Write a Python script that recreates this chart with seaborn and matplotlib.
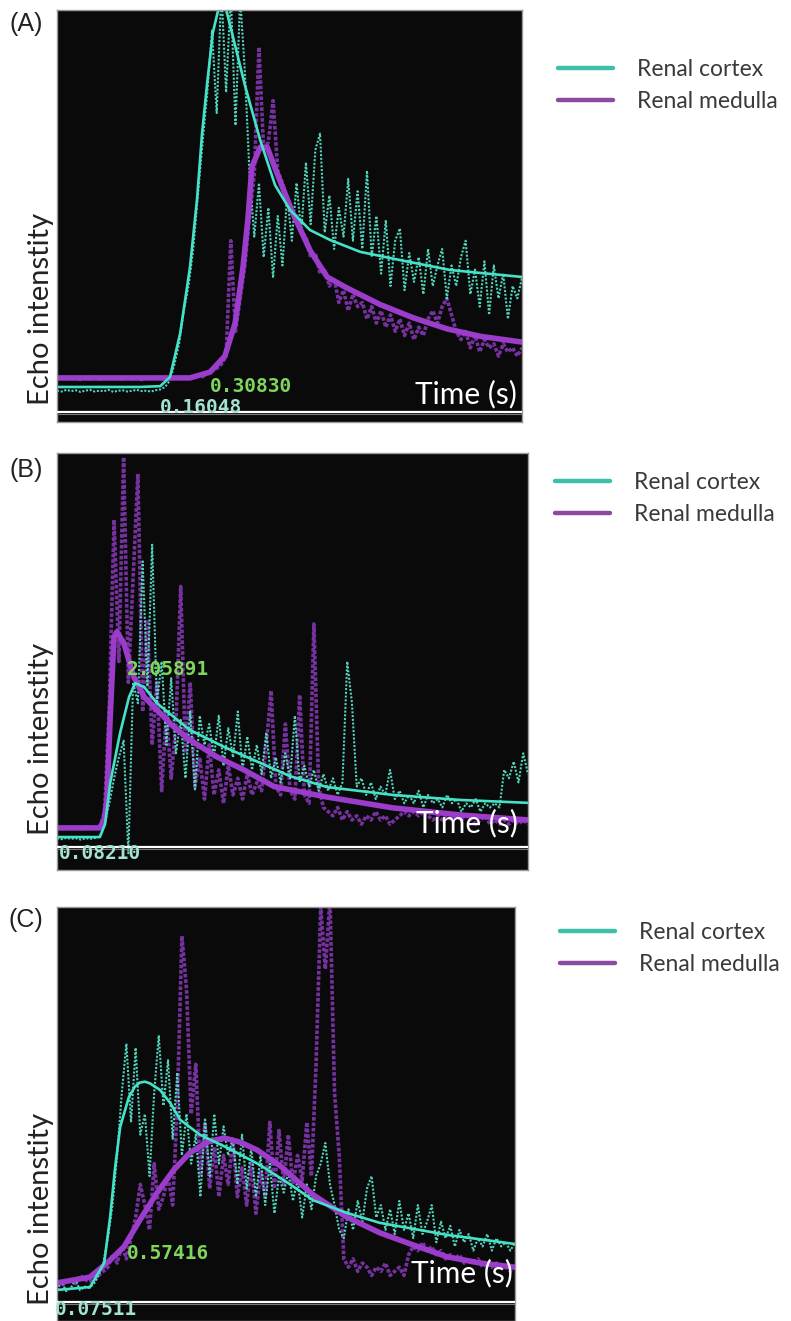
import numpy as np
import matplotlib
matplotlib.use("Agg")
import matplotlib.pyplot as plt
import seaborn as sns
from matplotlib.lines import Line2D

# ---- data (arbitrary units: time 0-100, intensity 0-100) ----
panel_labels = ["(A)", "(B)", "(C)"]
series_names = ["Renal cortex", "Renal medulla"]
peak_labels = ["0.30830", "2.05891", "0.57416"]
start_labels = ["0.16048", "0.08210", "0.07511"]
baseline_levels = [2.4, 5.5, 4.6]

# fitted curves
a_cortex_fit_t = [0, 17.8, 22.2, 24.3, 26.5, 28.6, 30.1, 31.2, 32.3, 33.5, 35.5, 37.2, 40.4, 43.7, 46.9, 50.1, 54.4, 58.7, 65.2, 73.8, 84.5, 100]
a_cortex_fit_y = [8.5, 8.5, 8.7, 10.9, 21.6, 37.6, 53.9, 70.1, 82.3, 94.4, 104, 96.4, 81.8, 68.4, 57.5, 51.5, 46.6, 44.2, 41.3, 39.3, 36.9, 35.2]
a_medulla_fit_t = [0, 28.6, 32.9, 36.1, 38.3, 40.0, 41.1, 41.9, 43.7, 45.2, 47.3, 50.7, 54.4, 58.1, 62.4, 69.5, 76.6, 83.9, 91.0, 100]
a_medulla_fit_y = [10.7, 10.7, 12.1, 16.0, 24.0, 37.6, 49.8, 61.9, 66.7, 66.7, 60.4, 50.7, 41.7, 35.2, 32.5, 28.5, 25.3, 22.6, 20.8, 19.4]

b_cortex_fit_t = [0, 9.1, 10.2, 11.3, 13.4, 15.3, 16.6, 18.5, 21.2, 24.8, 28.2, 35.5, 42.5, 49.5, 57.3, 71.3, 85.6, 100]
b_cortex_fit_y = [7.9, 7.9, 11.0, 20.9, 32.9, 41.5, 44.8, 43.9, 40.0, 36.7, 33.6, 29.5, 26.0, 22.5, 19.9, 18.0, 16.8, 16.1]
b_medulla_fit_t = [0, 9.1, 10.0, 10.6, 11.3, 12.1, 12.7, 14.2, 16.3, 18.5, 21.2, 24.8, 28.2, 34.0, 39.7, 46.1, 57.3, 71.3, 85.6, 100]
b_medulla_fit_y = [10.1, 10.1, 12.0, 16.8, 36.7, 55.9, 57.1, 54.4, 46.3, 41.5, 38.4, 34.3, 31.2, 27.1, 24.0, 20.0, 17.5, 14.9, 13.2, 12.0]

c_cortex_fit_t = [0, 7.2, 10.3, 11.6, 12.7, 13.8, 15.7, 17.0, 18.1, 19.2, 20.3, 22.5, 24.7, 26.9, 31.2, 37.8, 44.3, 50.9, 55.9, 63.3, 70.5, 85.2, 100]
c_cortex_fit_y = [7.5, 8.2, 14.0, 25.1, 37.2, 46.9, 54.1, 56.6, 57.6, 57.8, 57.4, 55.8, 52.7, 48.6, 45.0, 41.5, 37.7, 33.0, 29.2, 26.1, 23.7, 20.8, 18.6]
c_medulla_fit_t = [0, 7.2, 11.6, 14.6, 18.1, 21.8, 25.5, 29.0, 32.8, 36.5, 40.0, 43.7, 48.7, 55.9, 63.3, 70.5, 77.7, 85.2, 92.4, 100]
c_medulla_fit_y = [9.2, 10.6, 14.7, 17.9, 24.4, 30.9, 36.5, 40.6, 43.2, 44.2, 43.2, 41.3, 37.5, 30.5, 25.1, 21.3, 18.4, 15.5, 14.0, 13.0]

# raw (noisy) traces, one sample per time unit
a_cortex_raw = [7.6, 7.4, 7.8, 7.5, 7.7, 7.3, 7.6, 7.8, 7.4, 7.6, 7.5, 7.8, 7.3, 7.6, 7.7, 7.4, 7.6, 7.8, 7.5, 7.6, 7.4, 7.7, 7.9,
                8.5, 10, 14, 19, 27, 33, 42, 55, 68, 80, 95, 75, 105, 80, 104, 72, 103, 85, 60, 45, 58, 40, 52, 35, 50, 38, 55,
                44, 58, 46, 63, 48, 66, 70, 46, 55, 42, 52, 45, 59, 44, 56, 42, 61, 40, 50, 36, 49, 33, 44, 47, 32, 41, 34, 40, 31, 42,
                33, 38, 42, 30, 38, 33, 40, 44, 31, 37, 28, 39, 26, 38, 30, 36, 25, 33, 30, 35]
a_medulla_raw = [10.5, 10.8, 10.4, 10.9, 10.6, 10.3, 10.8, 10.5, 10.9, 10.4, 10.7, 10.5, 10.9, 10.6, 10.4, 10.8, 10.5, 10.7, 10.3, 10.8,
                 10.6, 10.9, 10.5, 10.7, 10.4, 10.8, 10.6, 10.9, 10.7, 11, 11.5, 11, 12, 12.5, 13, 14, 16, 44, 22, 30,
                 38, 50, 60, 91, 66, 68, 78, 61, 58, 54, 51, 50, 46, 45, 40, 41, 36, 37, 33, 35,
                 29, 32, 27, 31, 28, 29, 25, 28, 24, 27, 23, 26, 22, 25, 21, 24, 20, 23, 21, 25,
                 27, 24, 28, 30, 26, 22, 20, 22, 18, 21, 17, 20, 18, 19, 16, 19, 17, 18, 16, 18]

b_cortex_raw = [7.6, 7.4, 7.7, 7.5, 7.6, 7.3, 7.6, 7.5, 7.7, 8, 11, 16, 22, 27, 31, 4, 45, 40, 74, 44,
                78, 40, 50, 30, 46, 28, 36, 22, 38, 19, 37, 30, 35, 27, 37, 25, 34, 27, 38, 24,
                32, 24, 30, 23, 33, 22, 27, 21, 28, 22, 37, 21, 25, 20, 24, 19, 23, 19, 22, 18,
                21, 50, 40, 20, 22, 18, 21, 17, 20, 18, 24, 17, 19, 16, 18, 16, 19, 15, 18, 16,
                17, 15, 18, 16, 17, 14, 16, 15, 17, 14, 16, 15, 16, 15, 24, 22, 26, 21, 28, 23]
b_medulla_raw = [10.2, 10, 10.3, 10.1, 10.2, 9.9, 10.2, 10.1, 10, 10.3, 14, 40, 84, 50, 99, 45, 70, 95, 38, 60,
                 30, 45, 19, 38, 22, 35, 68, 28, 45, 20, 27, 17, 30, 18, 24, 16, 25, 18, 22, 17,
                 23, 18, 21, 19, 30, 43, 20, 18, 35, 19, 17, 42, 18, 16, 59, 20, 15, 14, 13, 15,
                 12, 14, 12, 13, 11, 13, 12, 14, 12, 13, 11, 12, 13, 14, 13, 14, 13, 14, 13, 12,
                 13, 12, 13, 12, 13, 12, 13, 12, 11, 12, 13, 11, 12, 11, 12, 11, 12, 11, 12, 11]

c_cortex_raw = [7.5, 9.5, 7.2, 8.0, 10.0, 7.4, 8.3, 8, 9, 11, 14, 20, 28, 40, 55, 67, 48, 66, 45, 50,
                35, 55, 69, 52, 63, 44, 60, 40, 50, 38, 45, 30, 49, 35, 50, 38, 47, 40, 44, 33,
                45, 32, 42, 30, 40, 28, 38, 26, 35, 31, 36, 29, 34, 25, 33, 27, 35, 38, 43, 33,
                28, 22, 20, 27, 22, 29, 24, 32, 35, 25, 28, 22, 27, 21, 29, 22, 26, 20, 28, 21,
                24, 28, 19, 24, 20, 23, 18, 22, 19, 21, 17, 20, 18, 21, 17, 20, 18, 19, 17, 19]
c_medulla_raw = [9, 8.5, 9.5, 10, 9, 11, 10, 9.5, 10, 11, 12, 13, 16, 14, 18, 15, 20, 25, 33, 28,
                 22, 38, 27, 30, 35, 28, 52, 93, 80, 50, 62, 35, 48, 32, 42, 30, 40, 33, 44, 30,
                 37, 28, 38, 26, 36, 30, 48, 32, 46, 33, 45, 33, 40, 34, 48, 35, 62, 100, 85, 102,
                 55, 40, 15, 13, 15, 12, 14, 13, 11, 13, 12, 14, 11, 12, 13, 11, 16, 18, 17, 19,
                 17, 18, 16, 17, 15, 16, 15, 16, 14, 15, 14, 15, 13, 14, 13, 14, 13, 13, 12, 13]

fits = [
    (a_cortex_fit_t, a_cortex_fit_y, a_medulla_fit_t, a_medulla_fit_y),
    (b_cortex_fit_t, b_cortex_fit_y, b_medulla_fit_t, b_medulla_fit_y),
    (c_cortex_fit_t, c_cortex_fit_y, c_medulla_fit_t, c_medulla_fit_y),
]
raws = [(a_cortex_raw, a_medulla_raw), (b_cortex_raw, b_medulla_raw), (c_cortex_raw, c_medulla_raw)]

# ---- style ----
sns.set_theme(style="dark")
plt.rcParams["font.family"] = ["Lato", "DejaVu Sans"]

W, H = 791, 1321
fig = plt.figure(figsize=(W / 100, H / 100), dpi=100, facecolor="white")

# axes boxes in pixels: left, top, right, bottom
boxes = [(57, 10, 522, 422), (57, 453, 528, 870), (57, 907, 515, 1321)]
legend_anchor = [(558, 59), (555, 472), (560, 922)]
ylabel_center = [309, 739, 1209]
label_y = [24, 470, 920]
# text positions in axes fraction
peak_pos = [(0.329, 0.085), (0.149, 0.48), (0.153, 0.164)]
start_pos = [(0.221, 0.036), (0.004, 0.04), (-0.004, 0.027)]
time_pos = [(0.989, 0.046), (0.979, 0.089), (0.996, 0.094)]

cortex_c = "#45e2c8"
medulla_c = "#9b3ccb"
cortex_raw_c = "#5ce9d0"
medulla_raw_c = "#9a3fd0"

for i, (l, t, r, b) in enumerate(boxes):
    ax = fig.add_axes([l / W, 1 - b / H, (r - l) / W, (b - t) / H])
    ax.set_facecolor("#0a0a0a")
    ct, cy, mt, my = fits[i]
    craw, mraw = raws[i]
    traw = np.linspace(0, 100, len(craw))

    # raw traces first, fits on top
    sns.lineplot(x=traw, y=mraw, ax=ax, color=medulla_raw_c, lw=2.6, alpha=0.75,
                 estimator=None, sort=False, linestyle=(0, (1, 0.5)))
    sns.lineplot(x=traw, y=craw, ax=ax, color=cortex_raw_c, lw=1.5, alpha=0.9,
                 estimator=None, sort=False, linestyle=(0, (1, 0.8)))
    sns.lineplot(x=mt, y=my, ax=ax, color=medulla_c, lw=4.0, estimator=None, sort=False)
    sns.lineplot(x=ct, y=cy, ax=ax, color=cortex_c, lw=1.9, estimator=None, sort=False)

    ax.axhline(baseline_levels[i], color="white", lw=1.6, zorder=5)
    ax.axhline(baseline_levels[i] - 0.4, color="#777777", lw=0.8, zorder=4)

    ax.set_xlim(0, 100)
    ax.set_ylim(0, 100)
    ax.set_xticks([])
    ax.set_yticks([])
    ax.set_xlabel("")
    ax.set_ylabel("")
    for s in ax.spines.values():
        s.set_visible(True)
        s.set_color("#9a9a9a")
        s.set_linewidth(1.0)

    ax.text(*peak_pos[i], peak_labels[i], transform=ax.transAxes, color="#7fd65c",
            family="DejaVu Sans Mono", weight="bold", fontsize=14, va="center", ha="left", zorder=6)
    ax.text(*start_pos[i], start_labels[i], transform=ax.transAxes, color="#a4e3d3",
            family="DejaVu Sans Mono", weight="bold", fontsize=14, va="center", ha="left", zorder=6)
    ax.text(*time_pos[i], "Time (s)", transform=ax.transAxes, color="white",
            fontsize=21.5, va="baseline", ha="right", zorder=7)

    fig.text(41 / W, 1 - ylabel_center[i] / H, "Echo intenstity", rotation=90,
             fontsize=21, color="#222222", ha="center", va="center")
    fig.text(26 / W, 1 - label_y[i] / H, panel_labels[i], family="Liberation Sans",
             fontsize=18, color="#222222", ha="center", va="center")

    handles = [Line2D([], [], color="#3dbfa9", lw=3.2),
               Line2D([], [], color="#8b4a9f", lw=3.2)]
    ax_x, ax_y = legend_anchor[i]
    fig.legend(handles, series_names, loc="upper left",
               bbox_to_anchor=(ax_x / W, 1 - ax_y / H), bbox_transform=fig.transFigure,
               frameon=False, fontsize=16.5, handlelength=2.4, handletextpad=1.05,
               labelspacing=0.46, borderpad=0, borderaxespad=0, labelcolor="#3a3a3a")

fig.savefig("out.png", dpi=100, facecolor="white")
